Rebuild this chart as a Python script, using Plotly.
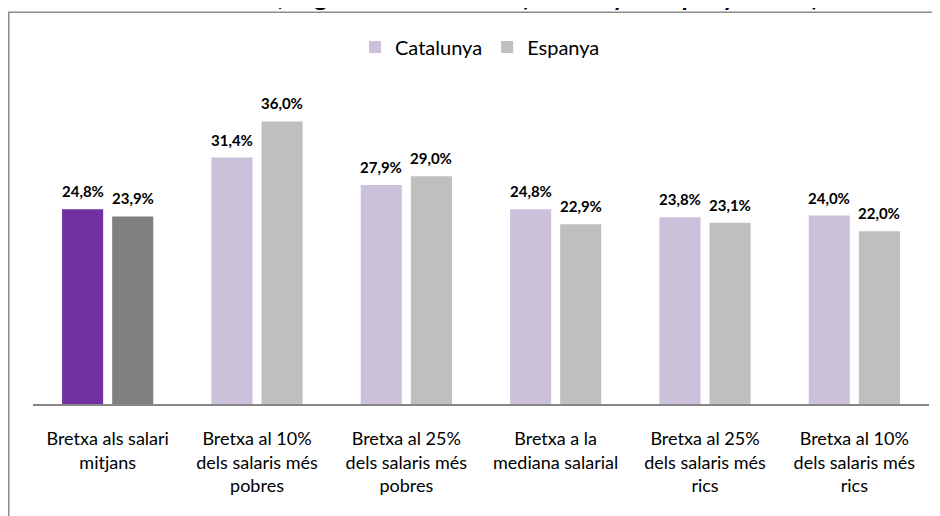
import plotly.graph_objects as go

# Data
categories = [
    "Bretxa als salari<br>mitjans",
    "Bretxa al 10%<br>dels salaris més<br>pobres",
    "Bretxa al 25%<br>dels salaris més<br>pobres",
    "Bretxa a la<br>mediana salarial",
    "Bretxa al 25%<br>dels salaris més<br>rics",
    "Bretxa al 10%<br>dels salaris més<br>rics",
]
catalunya = [24.8, 31.4, 27.9, 24.8, 23.8, 24.0]
espanya = [23.9, 36.0, 29.0, 22.9, 23.1, 22.0]
series_names = ["Catalunya", "Espanya"]

# Colours (first group highlighted)
cat_colors = ["#7030A0"] + ["#CCC1DA"] * 5
esp_colors = ["#808080"] + ["#BFBFBF"] * 5
legend_colors = ["#CCC1DA", "#BFBFBF"]

FONT = "Lato"

fig = go.Figure()
fig.add_trace(go.Bar(x=categories, y=catalunya, name="Catalunya", showlegend=False,
                     marker=dict(color=cat_colors, line=dict(width=0))))
fig.add_trace(go.Bar(x=categories, y=espanya, name="Espanya", showlegend=False,
                     marker=dict(color=esp_colors, line=dict(width=0))))

# Legend entries (in the plain colours)
for name, col in zip(series_names, legend_colors):
    fig.add_trace(go.Scatter(x=[None], y=[None], mode="markers", name=name,
                             marker=dict(symbol="square", size=12, color=col)))

# Value labels above each bar
for series, shift in ((catalunya, -25), (espanya, 25)):
    for cat, val in zip(categories, series):
        fig.add_annotation(
            x=cat, y=val, xshift=shift, yshift=7,
            text=("<b>%.1f%%</b>" % val).replace(".", ","),
            showarrow=False, yanchor="bottom",
            font=dict(family=FONT, size=15, color="#000000"),
        )

# Chart title (mostly cropped at the top of the picture)
fig.add_annotation(
    x=0.4877, y=1.248, xref="paper", yref="paper", yshift=-1,
    text="<b>Bretxa salarial, segons nivell salarial (Catalunya i Espanya 2010)</b>",
    showarrow=False, xanchor="center", yanchor="bottom",
    font=dict(family=FONT, size=25, color="#000000"),
)

# Outer chart border
fig.add_shape(type="rect", xref="paper", yref="paper",
              x0=-0.02706, x1=1.05, y0=-0.45, y1=1.248,
              line=dict(color="#8C8C8C", width=1.5), fillcolor="rgba(0,0,0,0)",
              layer="below")

fig.update_layout(
    width=940, height=516,
    margin=dict(l=25, r=19, t=82, b=120),
    barmode="group", bargap=0.329, bargroupgap=0.18,
    plot_bgcolor="white", paper_bgcolor="white",
    font=dict(family=FONT, color="#000000"),
    showlegend=True,
    legend=dict(orientation="h", x=0.4989, y=1.137, xanchor="center", yanchor="middle",
                font=dict(family=FONT, size=20, color="#000000"),
                bgcolor="rgba(0,0,0,0)"),
    xaxis=dict(showline=True, linecolor="#868686", linewidth=1.5, ticks="",
               tickfont=dict(family=FONT, size=18, color="#000000"),
               ticklabelstandoff=18, showgrid=False, zeroline=False),
    yaxis=dict(range=[0, 40], visible=False, showgrid=False, zeroline=False),
)

fig.write_html("out.html")
